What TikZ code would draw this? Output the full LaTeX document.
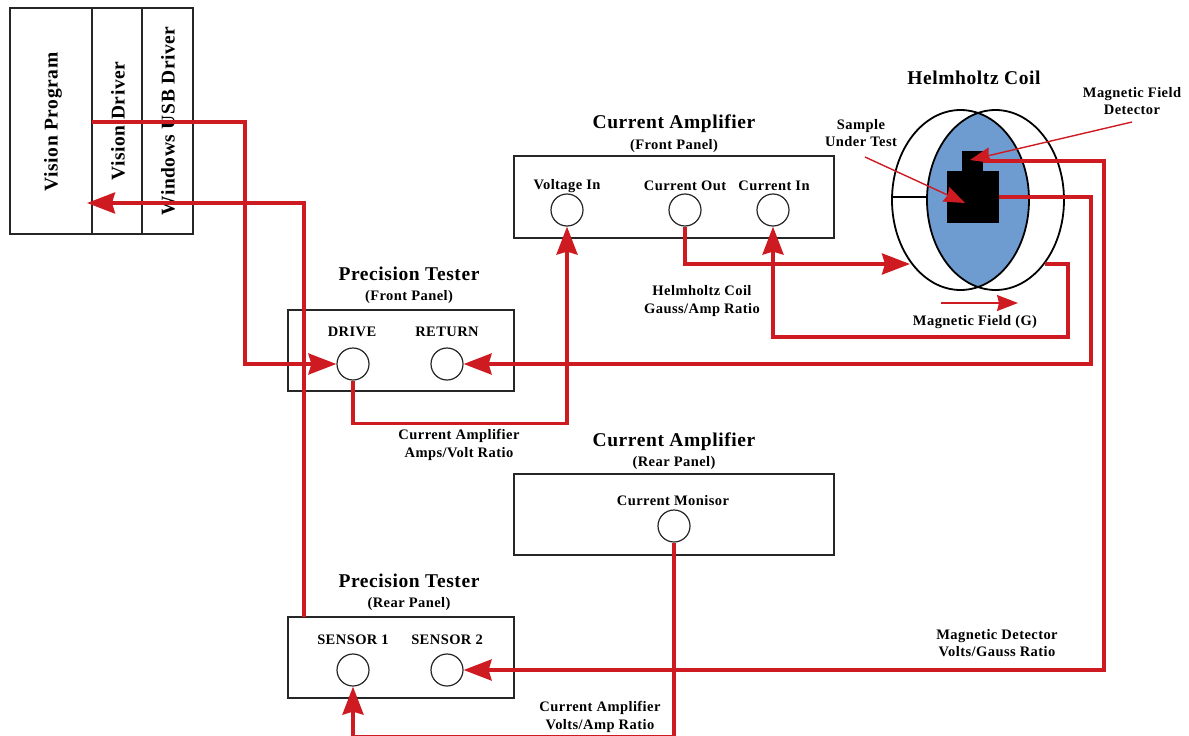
\documentclass[tikz,border=0pt]{standalone}
\usepackage{fontspec}
\setmainfont{Liberation Serif}[LetterSpace=3]
\usepackage{xcolor}
\usepackage{tikz}
\usetikzlibrary{shapes,positioning,calc}
\usetikzlibrary{arrows.meta}
\definecolor{wirered}{HTML}{CE1B22}
\definecolor{coilblue}{HTML}{6F9CD0}
\tikzstyle{panel} = [rectangle, draw=black!85, line width=1.3pt, inner sep=0pt]
\tikzstyle{port} = [circle, draw=black!85, fill=white, line width=1.2pt, inner sep=0pt, minimum size=32pt]
\tikzstyle{solid block} = [rectangle, fill=black, inner sep=0pt]
\tikzstyle{title} = [font=\fontsize{19.5}{20}\selectfont\bfseries, inner sep=0pt]
\tikzstyle{small} = [font=\fontsize{14.5}{17.5}\selectfont\bfseries, inner sep=0pt, align=center]
\tikzstyle{stack} = [font=\fontsize{19.5}{20}\selectfont\bfseries, inner sep=0pt, rotate=90]
\tikzstyle{wire} = [draw=wirered, line width=3.6pt, line join=miter]
\tikzstyle{thin wire} = [draw=wirered, line width=1.4pt]
\tikzset{bigtip/.tip={Stealth[length=28pt,width=21pt,inset=3pt,sep=0pt]}}
\tikzset{midtip/.tip={Stealth[length=21pt,width=16pt,inset=2pt]}}

\begin{document}
\begin{tikzpicture}[x=1pt,y=-1pt]
	\useasboundingbox (0,0) rectangle (1189,736);
	% software stack
	\node[panel, minimum width=82pt, minimum height=226pt] (program) at (51,121) {};
	\node[panel, minimum width=50pt, minimum height=226pt] (driver) at (117,121) {};
	\node[panel, minimum width=51pt, minimum height=226pt] (usb) at (167.5,121) {};
	\node[stack] (programtxt) at (53,122) {Vision Program};
	\node[stack] (drivertxt) at (118,121) {Vision Driver};
	\node[stack] (usbtxt) at (168,121) {Windows USB Driver};
	% panels
	\node[panel, minimum width=226pt, minimum height=81pt] (testerfront) at (401,350.5) {};
	\node[panel, minimum width=226pt, minimum height=81pt] (testerrear) at (401,657.5) {};
	\node[panel, minimum width=320pt, minimum height=82pt] (ampfront) at (674,197) {};
	\node[panel, minimum width=320pt, minimum height=81pt] (amprear) at (674,514.5) {};
	% ports
	\node[port] (drive) at (353,364) {};
	\node[port] (return) at (447,364) {};
	\node[port] (sensorone) at (353,670) {};
	\node[port] (sensortwo) at (447,670) {};
	\node[port] (voltagein) at (567,210) {};
	\node[port] (currentout) at (685,210) {};
	\node[port] (currentin) at (773,210) {};
	\node[port] (monitor) at (674,526) {};
	% titles
	\node[title] (coiltitle) at (974,78) {Helmholtz Coil};
	\node[title] (ampfronttitle) at (674,124) {Current Amplifier};
	\node[small] (ampfrontsub) at (674,146) {(Front Panel)};
	\node[title] (testerfronttitle) at (409,274) {Precision Tester};
	\node[small] (testerfrontsub) at (409,297) {(Front Panel)};
	\node[title] (amprearTitle) at (674,442) {Current Amplifier};
	\node[small] (amprearsub) at (674,463) {(Rear Panel)};
	\node[title] (testerreartitle) at (409,581) {Precision Tester};
	\node[small] (testerrearsub) at (409,604) {(Rear Panel)};
	% port labels
	\node[small] (drivetxt) at (352,332) {DRIVE};
	\node[small] (returntxt) at (447,332) {RETURN};
	\node[small] (sensoronetxt) at (353,640) {SENSOR 1};
	\node[small] (sensortwotxt) at (447,640) {SENSOR 2};
	\node[small] (voltagetxt) at (567,186) {Voltage In};
	\node[small] (outtxt) at (685,186) {Current Out};
	\node[small] (intxt) at (774,186) {Current In};
	\node[small] (monitortxt) at (673,501) {Current Monisor};
	% other labels
	\node[small] (ratiocoil) at (702,301) {Helmholtz Coil\\Gauss/Amp Ratio};
	\node[small] (ratioamp) at (459,445) {Current Amplifier\\Amps/Volt Ratio};
	\node[small] (ratiovolt) at (600,717) {Current Amplifier\\Volts/Amp Ratio};
	\node[small] (ratiodetector) at (997,643) {Magnetic Detector\\Volts/Gauss Ratio};
	\node[small] (sampletxt) at (861,133) {Sample\\Under Test};
	\node[small] (detectortxt) at (1132,101) {Magnetic Field\\Detector};
	\node[small] (fieldtxt) at (975,322) {Magnetic Field (G)};
	% coil
	\begin{scope}
		\clip (960.5,200) ellipse [x radius=68.5, y radius=90];
		\fill[coilblue] (995.5,200) ellipse [x radius=68.5, y radius=90];
	\end{scope}
	\draw[line width=1.8pt] (960.5,200) ellipse [x radius=68.5, y radius=90];
	\draw[line width=1.8pt] (995.5,200) ellipse [x radius=68.5, y radius=90];
	\draw[line width=1.3pt] (892,197) -- (926,197);
	\draw[line width=1.3pt] (1029,197) -- (1064,197);
	\node[solid block, minimum width=52pt, minimum height=52pt] (sample) at (973,197) {};
	\node[solid block, minimum width=21pt, minimum height=20pt] (detector) at (972.5,161) {};
	% free ends
	\coordinate (programout) at (92,122);
	\coordinate (programin) at (87,203);
	\coordinate (rearup) at (304,617);
	\coordinate (coilleft) at (910,264);
	\coordinate (coilright) at (1045,264);
	\coordinate (samplefrom) at (865,157);
	\coordinate (sampleto) at (965,203);
	\coordinate (detectorfrom) at (1132,122);
	\coordinate (detectorto) at (970,160);
	\coordinate (fieldfrom) at (941,303);
	\coordinate (fieldto) at (1018,303);
	% wires
	\draw[wire,-bigtip] (programout) -- ++(153,0) |- (drive.west);
	\draw[wire,-bigtip] (rearup) |- (programin);
	\draw[wire,-bigtip] (drive.south) -- ++(0,43) -| (voltagein.south);
	\draw[wire,-bigtip] (currentout.south) |- (coilleft);
	\draw[wire,-bigtip] (coilright) -- ++(23,0) -- ++(0,73) -| (currentin.south);
	\draw[wire,-bigtip] (sample.east) -- ++(92,0) |- (return.east);
	\draw[wire,-bigtip] (detector.east) -- ++(121,0) |- (sensortwo.east);
	\draw[wire,-bigtip] (monitor.south) -- ++(0,194) -| (sensorone.south);
	\draw[thin wire,-midtip] (samplefrom) -- (sampleto);
	\draw[thin wire,-midtip] (detectorfrom) -- (detectorto);
	\draw[thin wire,-midtip] (fieldfrom) -- (fieldto);
\end{tikzpicture}
\end{document}
